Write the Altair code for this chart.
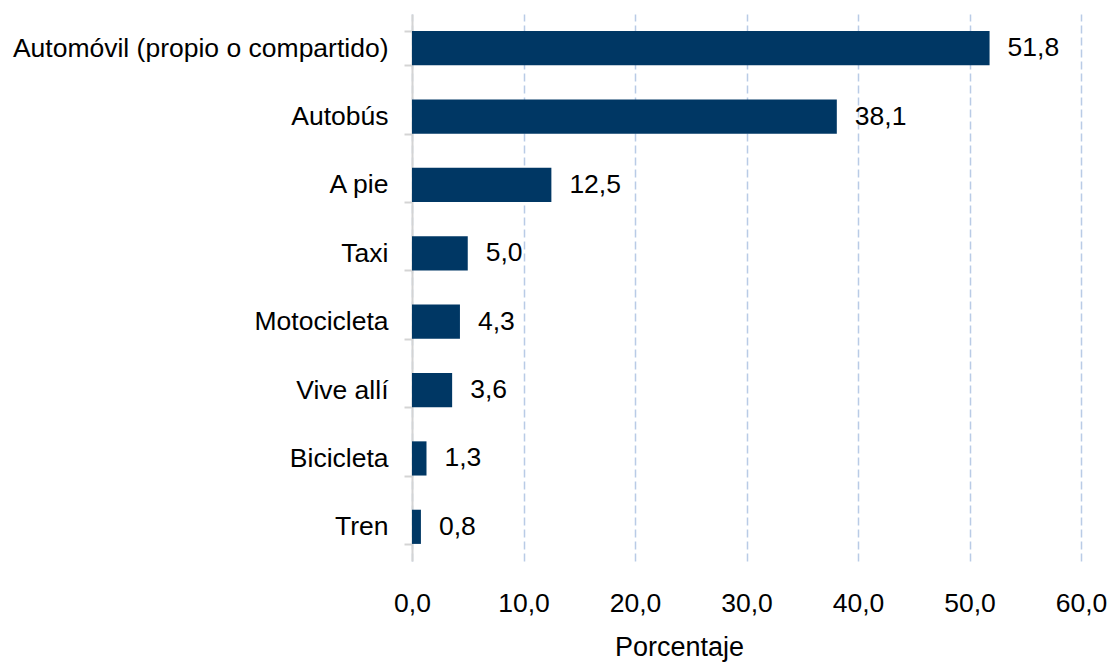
import altair as alt
import pandas as pd

categories = ["Automóvil (propio o compartido)", "Autobús", "A pie", "Taxi",
              "Motocicleta", "Vive allí", "Bicicleta", "Tren"]
values = [51.8, 38.1, 12.5, 5.0, 4.3, 3.6, 1.3, 0.8]
x_ticks = [0, 10, 20, 30, 40, 50, 60]

df = pd.DataFrame({"modo": categories, "pct": values})

FONT = "Liberation Sans"
BAR = "#003764"
FS = 26.5

y_enc = alt.Y("modo:N", sort=None, title=None,
              scale=alt.Scale(paddingInner=0.5, paddingOuter=0.25),
              axis=alt.Axis(labelFont=FONT, labelFontSize=FS, labelColor="#000000",
                            labelPadding=16, domainColor="#d4d4d4", domainWidth=2,
                            tickColor="#d4d4d4", tickWidth=2, tickSize=8,
                            tickBand="extent", grid=False, labelLimit=600))

x_enc = alt.X("pct:Q", title="Porcentaje",
              scale=alt.Scale(domain=[0, 60], nice=False, zero=True),
              axis=alt.Axis(values=x_ticks, domain=False, ticks=False,
                            labelExpr="replace(format(datum.value, '.1f'), '.', ',')",
                            labelFont=FONT, labelFontSize=FS, labelColor="#000000",
                            labelPadding=29, labelFlush=False, labelOverlap=False,
                            grid=True, gridColor="#b9cbe6",
                            gridDash=[8, 4], gridWidth=1.5,
                            titleFont=FONT, titleFontSize=27, titleFontWeight="normal",
                            titleColor="#000000", titleX=267, titleY=94,
                            titleAlign="center", titleBaseline="alphabetic"))

bars = alt.Chart(df).mark_bar(color=BAR).encode(x=x_enc, y=y_enc)

text = alt.Chart(df).transform_calculate(
    lab="replace(format(datum.pct, '.1f'), '.', ',')"
).mark_text(align="left", baseline="middle", dx=18, font=FONT, fontSize=FS,
            color="#000000").encode(
    x=alt.X("pct:Q"), y=alt.Y("modo:N", sort=None), text="lab:N")

chart = alt.layer(bars, text).properties(
    width=669, height=547,
    autosize=alt.AutoSizeParams(type="none"),
    padding={"left": 404, "top": 6, "right": 26, "bottom": 102},
).configure_view(stroke=None)

chart.save("out.html", embed_options={"renderer": "svg", "actions": False})
